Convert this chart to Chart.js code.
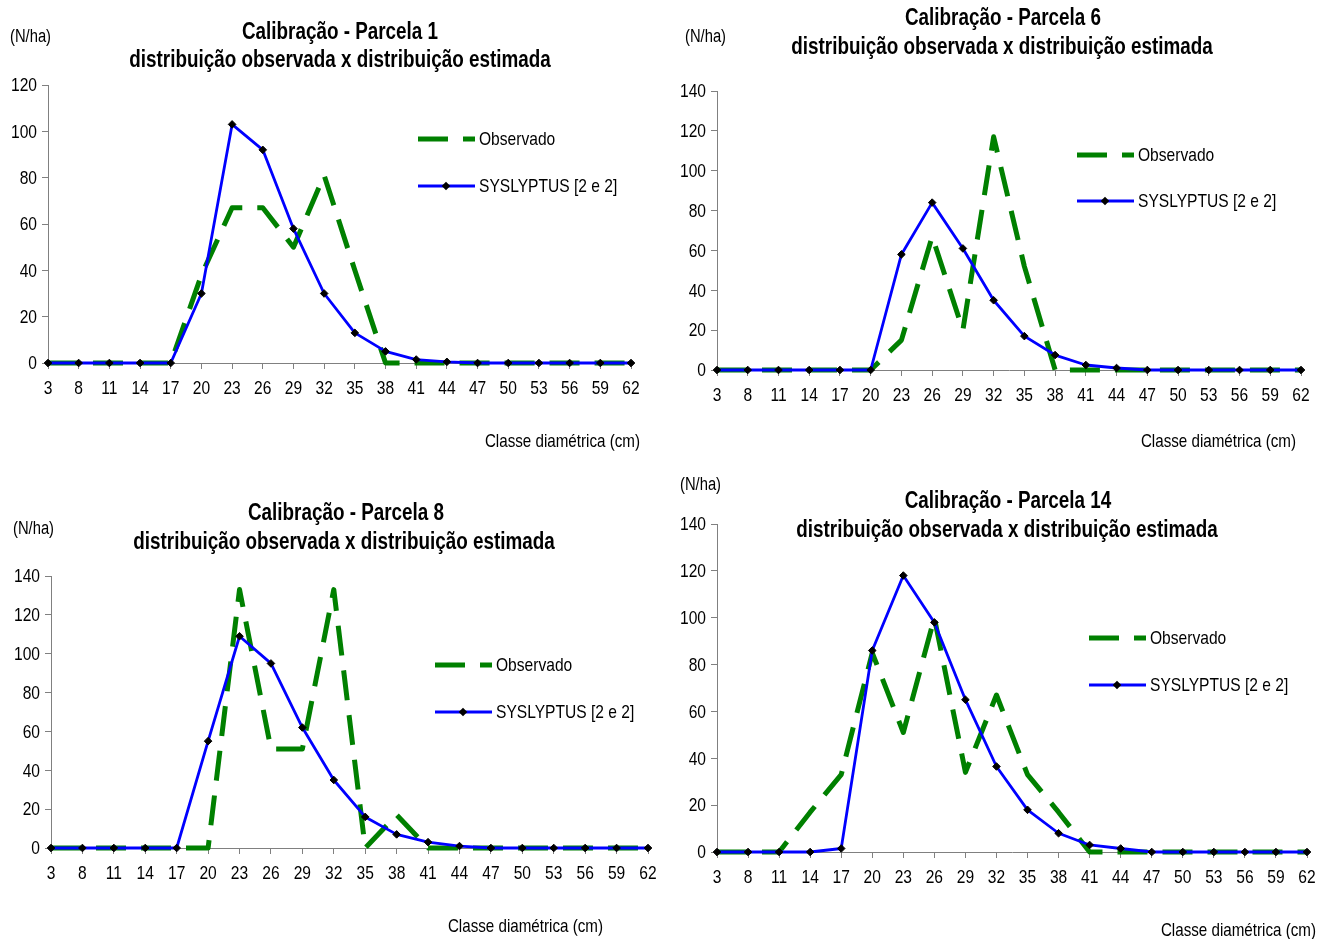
<!DOCTYPE html>
<html>
<head>
<meta charset="utf-8">
<script src="https://cdn.jsdelivr.net/npm/chart.js@4.4.1/dist/chart.umd.min.js"></script>
<style>
  body { margin: 0; background: #fff; }
  #page { position: relative; width: 1317px; height: 939px; overflow: hidden; font-family: 'Liberation Sans', Arial, sans-serif; color: #000; }
  canvas { position: absolute; }
  .t { position: absolute; white-space: nowrap; line-height: 1; }
  .title { font-weight: bold; font-size: 23px; transform: translate(-50%, -50%) scaleX(0.82); }
  .unit { font-size: 18px; transform-origin: left center; transform: translateY(-50%) scaleX(0.82); }
  .xt { font-size: 18.5px; transform-origin: right center; transform: translate(-100%, -50%) scaleX(0.82); }
</style>
</head>
<body>
<div id="page">
  <canvas id="c1" width="658" height="470" style="left:0;top:0"></canvas>
  <canvas id="c2" width="659" height="470" style="left:658px;top:0"></canvas>
  <canvas id="c3" width="658" height="469" style="left:0;top:470px"></canvas>
  <canvas id="c4" width="659" height="469" style="left:658px;top:470px"></canvas>

  <div class="t title" style="left:340px;top:31px">Calibração - Parcela 1</div>
  <div class="t title" style="left:340px;top:59px">distribuição observada x distribuição estimada</div>
  <div class="t unit" style="left:10px;top:36px">(N/ha)</div>
  <div class="t xt" style="left:640px;top:441px">Classe diamétrica (cm)</div>

  <div class="t title" style="left:1003px;top:17px">Calibração - Parcela 6</div>
  <div class="t title" style="left:1002px;top:46px">distribuição observada x distribuição estimada</div>
  <div class="t unit" style="left:685px;top:36px">(N/ha)</div>
  <div class="t xt" style="left:1296px;top:441px">Classe diamétrica (cm)</div>

  <div class="t title" style="left:346px;top:512px">Calibração - Parcela 8</div>
  <div class="t title" style="left:344px;top:541px">distribuição observada x distribuição estimada</div>
  <div class="t unit" style="left:13px;top:528px">(N/ha)</div>
  <div class="t xt" style="left:603px;top:926px">Classe diamétrica (cm)</div>

  <div class="t title" style="left:1008px;top:500px">Calibração - Parcela 14</div>
  <div class="t title" style="left:1007px;top:529px">distribuição observada x distribuição estimada</div>
  <div class="t unit" style="left:680px;top:484px">(N/ha)</div>
  <div class="t xt" style="left:1316px;top:930px">Classe diamétrica (cm)</div>
</div>
<script>
// classes de diâmetro (cm)
const classes = ['3','8','11','14','17','20','23','26','29','32','35','38','41','44','47','50','53','56','59','62'];

// Parcela 1
const obsP1 = [0,0,0,0,0,38,67,67,50,81,40,0,0,0,0,0,0,0,0,0];
const estP1 = [0,0,0,0,0,30,103,92,58,30,13,5,1.5,0.5,0,0,0,0,0,0];
// Parcela 6
const obsP6 = [0,0,0,0,0,0,15,67,20,117,52,0,0,0,0,0,0,0,0,0];
const estP6 = [0,0,0,0,0,0,58,84,61,35,17,7.5,2.5,1,0,0,0,0,0,0];
// Parcela 8
const obsP8 = [0,0,0,0,0,0,133,51,51,133,0,17,0,0,0,0,0,0,0,0];
const estP8 = [0,0,0,0,0,55,109,95,62,35,16,7,3,1,0,0,0,0,0,0];
// Parcela 14
const obsP14 = [0,0,0,17,33,85,51,100,34,67,33,17,0,0,0,0,0,0,0,0];
const estP14 = [0,0,0,0,1.5,86,118,98,65,36.5,18,8,3,1.5,0,0,0,0,0,0];

const FONT = "'Liberation Sans', Arial, sans-serif";
const AXIS_GREY = '#808080';
const NARROW = 0.82;

// texto estreito (fonte condensada do original)
function narrowText(ctx, text, x, y, align) {
  ctx.save();
  ctx.translate(x, y);
  ctx.scale(NARROW, 1);
  ctx.textAlign = align;
  ctx.textBaseline = 'middle';
  ctx.fillText(text, 0, 0);
  ctx.restore();
}

// rótulos dos eixos desenhados à mão
const narrowTicks = {
  id: 'narrowTicks',
  afterDraw(chart) {
    const ctx = chart.ctx;
    const xs = chart.scales.x, ys = chart.scales.y;
    ctx.save();
    ctx.fillStyle = '#000';
    ctx.font = '19px ' + FONT;
    xs.ticks.forEach((t, i) => {
      narrowText(ctx, t.label, xs.getPixelForTick(i), xs.top + 26, 'center');
    });
    ys.ticks.forEach(t => {
      narrowText(ctx, String(t.value), ys.right - 11, ys.getPixelForValue(t.value) + 1, 'right');
    });
    ctx.restore();
  }
};

// legenda dentro da área do gráfico, estilo Excel
const sideLegend = {
  id: 'sideLegend',
  afterDraw(chart, args, opts) {
    const ctx = chart.ctx;
    chart.data.datasets.forEach((ds, i) => {
      const y = opts.y + i * opts.gap;
      ctx.save();
      ctx.strokeStyle = ds.borderColor;
      ctx.lineWidth = ds.borderWidth;
      ctx.setLineDash(ds.borderDash || []);
      ctx.beginPath();
      ctx.moveTo(opts.x, y);
      ctx.lineTo(opts.x + 57, y);
      ctx.stroke();
      ctx.setLineDash([]);
      if (ds.pointRadius > 0) {
        ctx.fillStyle = '#000';
        ctx.beginPath();
        const cx = opts.x + 28, r = ds.pointRadius + 0.5;
        ctx.moveTo(cx, y - r); ctx.lineTo(cx + r, y); ctx.lineTo(cx, y + r); ctx.lineTo(cx - r, y);
        ctx.closePath();
        ctx.fill();
      }
      ctx.fillStyle = '#000';
      ctx.font = '19px ' + FONT;
      narrowText(ctx, ds.label, opts.x + 61, y + 1, 'left');
      ctx.restore();
    });
  }
};

function drawParcela(canvasId, obs, est, yMax, box) {
  new Chart(document.getElementById(canvasId), {
    type: 'line',
    data: {
      labels: classes,
      datasets: [{
        label: 'Observado',
        data: obs,
        borderColor: '#008000',
        borderWidth: 5,
        borderDash: [30, 15],
        borderJoinStyle: 'round',
        pointRadius: 0,
        tension: 0,
        clip: false,
        order: 2
      }, {
        label: 'SYSLYPTUS [2 e 2]',
        data: est,
        borderColor: '#0000ff',
        borderWidth: 2.8,
        borderJoinStyle: 'round',
        pointStyle: 'rectRot',
        pointRadius: 3.8,
        pointBackgroundColor: '#000',
        pointBorderColor: '#000',
        pointBorderWidth: 1,
        tension: 0,
        clip: false,
        order: 1
      }]
    },
    options: {
      responsive: false,
      animation: false,
      layout: { padding: { left: 0, right: box.right, top: box.top, bottom: 0 } },
      scales: {
        x: {
          offset: false,
          afterFit: s => { s.height = box.xh; },
          grid: { display: true, drawOnChartArea: false, drawTicks: true, tickLength: 6, color: AXIS_GREY, offset: false },
          border: { color: AXIS_GREY },
          ticks: { display: false, autoSkip: false, maxRotation: 0 }
        },
        y: {
          min: 0,
          max: yMax,
          afterFit: s => { s.width = box.left; },
          grid: { display: true, drawOnChartArea: false, drawTicks: true, tickLength: 6, color: AXIS_GREY },
          border: { color: AXIS_GREY },
          ticks: { display: false, stepSize: 20 }
        }
      },
      plugins: {
        legend: { display: false },
        title: { display: false },
        tooltip: { enabled: false },
        sideLegend: box.legend
      }
    },
    plugins: [narrowTicks, sideLegend]
  });
}

drawParcela('c1', obsP1, estP1, 120, { left: 48, right: 27, top: 85, xh: 107, legend: { x: 418, y: 139, gap: 47 } });
drawParcela('c2', obsP6, estP6, 140, { left: 59, right: 16, top: 91, xh: 100, legend: { x: 419, y: 155, gap: 46 } });
drawParcela('c3', obsP8, estP8, 140, { left: 51, right: 10, top: 106, xh: 91, legend: { x: 435, y: 195, gap: 47 } });
drawParcela('c4', obsP14, estP14, 140, { left: 59, right: 10, top: 54, xh: 87, legend: { x: 431, y: 168, gap: 47 } });
</script>
</body>
</html>
